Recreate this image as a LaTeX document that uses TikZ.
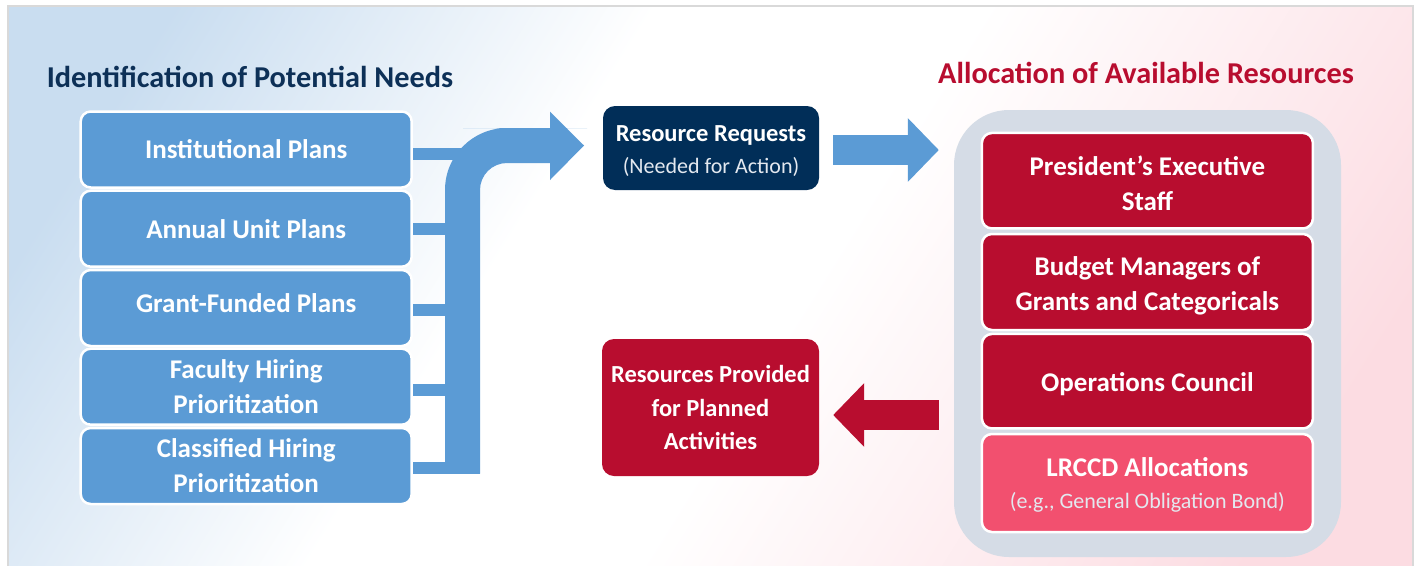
\documentclass[tikz,border=0pt]{standalone}
\usepackage{fontspec}
\setmainfont{Carlito}
\usetikzlibrary{arrows.meta}
\definecolor{boxblue}{HTML}{5B9BD5}
\definecolor{navybox}{HTML}{012E58}
\definecolor{titlenavy}{HTML}{0D3057}
\definecolor{redbox}{HTML}{B80D2F}
\definecolor{pinkbox}{HTML}{F2506F}
\definecolor{panelgray}{HTML}{D5DCE6}
\definecolor{framegray}{HTML}{D9D9D9}
\definecolor{bgblue}{HTML}{C9DDF0}
\definecolor{bgpink}{HTML}{FCDCE2}
\definecolor{subtext}{HTML}{E3E8EF}
\pgfdeclarehorizontalshading{bgshade}{100bp}{color(0bp)=(bgblue); color(22bp)=(bgblue);
  color(41bp)=(white); color(54bp)=(white); color(78bp)=(bgpink); color(100bp)=(bgpink)}
\begin{document}
\begin{tikzpicture}[x=1pt,y=-1pt,
  sidebox/.style={draw=white, line width=2.5pt, rounded corners=10pt, minimum width=331pt,
    inner sep=0pt, text=white, align=center, font=\bfseries\fontsize{27}{35}\selectfont},
  bluebox/.style={sidebox, fill=boxblue},
  redstack/.style={sidebox, fill=redbox},
  boxtext/.style={inner sep=0pt, text=white, align=center, font=\bfseries\fontsize{27}{35}\selectfont},
  midbox/.style={rounded corners=12pt, minimum width=216pt, inner sep=0pt, text=white,
    align=center, font=\bfseries\fontsize{24.5}{33.5}\selectfont},
  bar/.style={draw=boxblue, line width=12pt},
  fatarrow/.style={line width=30pt, -{Triangle[length=31pt,width=62pt]}},
  titletext/.style={anchor=base, font=\bfseries\fontsize{30.3}{36}\selectfont}
]
\useasboundingbox (0,0) rectangle (1418,565);
% background
\shade[shading=bgshade, shading angle=-32] (8,6) rectangle (1413,565);
\draw[framegray, line width=1.5pt] (8,570) -- (8,6) -- (1413,6) -- (1413,570);

% titles
\node[titletext, text=titlenavy] (t1) at (250,87) {Identification of Potential Needs};
\node[titletext, text=redbox] (t2) at (1146,83) {Allocation of Available Resources};

% left boxes (positions)
\path
  (246.2,149.5) coordinate (c1)
  (246.2,228.7) coordinate (c2)
  (246.2,308.0) coordinate (c3)
  (246.2,386.7) coordinate (c4)
  (246.2,466.0) coordinate (c5);

% bars
\draw[bar] (411,153.5) -- (478,153.5);
\draw[bar] (411,229) -- (478,229);
\draw[bar] (411,310) -- (478,310);
\draw[bar] (411,390) -- (478,390);
\draw[bar] (411,467.5) -- (480,467.5);

% bent arrow
\fill[boxblue] (445,473.5) [rounded corners=62pt] -- (445,128) -- (525,128) [sharp corners]
  -- (550,128) -- (550,111.7) -- (584,145.5) -- (550,180) -- (550,163) -- (525,163)
  [rounded corners=27pt] -- (480,163) -- (480,300) [sharp corners] -- (480,473.5) -- cycle;

\node[bluebox, minimum height=76pt] (ip) at (c1) {Institutional Plans};
\node[bluebox, minimum height=76pt] (aup) at (c2) {Annual Unit Plans};
\node[bluebox, minimum height=76pt] (gfp) at (c3) {\raisebox{9pt}{Grant-Funded Plans}};
\node[bluebox, minimum height=76pt] (fhp) at (c4) {Faculty Hiring\\Prioritization};
\node[bluebox, minimum height=76pt] (chp) at (c5) {Classified Hiring\\Prioritization};

% center boxes
\node[midbox, fill=navybox, minimum height=84pt] (rr) at (711,148) {};
\node[midbox] (rrt) at ([yshift=-3pt]rr.center)
  {Resource Requests\\[-1.5pt]{\mdseries\color{subtext}\fontsize{22}{32}\selectfont (Needed for Action)}};
\node[midbox, fill=redbox, minimum height=137pt, minimum width=217pt] (rp) at (710.5,407.5)
  {Resources Provided\\for Planned\\Activities};

% right panel
\node[fill=panelgray, rounded corners=55pt, minimum width=387pt, minimum height=447pt,
  inner sep=0pt] (panel) at (1147.5,333.5) {};
\node[redstack, minimum height=95.5pt] (pes) at (1147.4,180.7) {};
\node[redstack, minimum height=96pt] (bm) at (1147.4,282) {};
\node[redstack, minimum height=94.5pt] (oc) at (1147.4,381.2) {};
\node[sidebox, fill=pinkbox, minimum height=98pt] (lr) at (1147.4,483) {};
\node[boxtext] (pest) at ([yshift=-2.5pt]pes.center) {President’s Executive\\Staff};
\node[boxtext] (bmt) at ([yshift=-3.5pt]bm.center) {Budget Managers of\\Grants and Categoricals};
\node[boxtext] (oct) at ([yshift=-3pt]oc.center) {Operations Council};
\node[boxtext] (lrt) at ([yshift=-2pt]lr.center)
  {LRCCD Allocations\\[-3pt]{\mdseries\color{subtext}\fontsize{22}{33}\selectfont (e.g., General Obligation Bond)}};

% arrows
\draw[fatarrow, boxblue] ([xshift=14pt]rr.east |- 0,150) -- ([xshift=-15pt]panel.west |- 0,150);
\draw[fatarrow, redbox] ([xshift=-15pt]panel.west |- 0,415) -- ([xshift=14pt]rp.east |- 0,415);
\end{tikzpicture}
\end{document}
